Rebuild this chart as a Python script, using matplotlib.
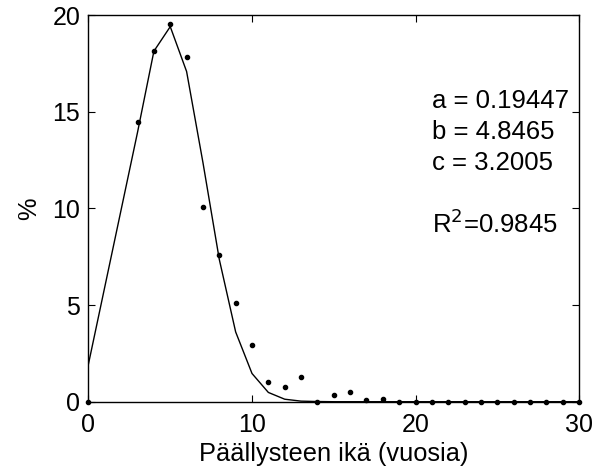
import numpy as np
import matplotlib.pyplot as plt

plt.rcParams['font.family'] = ['Liberation Sans', 'DejaVu Sans']

# Havaitut osuudet (%) päällysteen iän mukaan
ika = [0, 3, 4, 5, 6, 7, 8, 9, 10, 11, 12, 13, 14, 15, 16, 17, 18,
       19, 20, 21, 22, 23, 24, 25, 26, 27, 28, 29, 30]
osuus_havainto = [0.0, 14.45, 18.16, 19.52, 17.82, 10.09, 7.59, 5.09, 2.93,
                  1.03, 0.74, 1.28, 0.0, 0.35, 0.5, 0.07, 0.16, 0.0, 0.0,
                  0.0, 0.0, 0.0, 0.0, 0.0, 0.0, 0.0, 0.0, 0.0, 0.0]

# Sovitettu käyrä samoissa ikäpisteissä
osuus_sovite = [1.96, 13.94, 18.13, 19.40, 17.08, 12.37, 7.36, 3.61, 1.46,
                0.48, 0.13, 0.03, 0.01, 0.0, 0.0, 0.0, 0.0, 0.0, 0.0, 0.0,
                0.0, 0.0, 0.0, 0.0, 0.0, 0.0, 0.0, 0.0, 0.0]

parametrit = ["a = 0.19447", "b = 4.8465", "c = 3.2005"]
selitysaste = "R$^2$=0.9845"

fig = plt.figure(figsize=(6.12, 4.73), dpi=100)
ax = fig.add_axes([0.1446, 0.1507, 0.8015, 0.8175])

ax.plot(ika, osuus_sovite, 'k-', linewidth=1.0)
ax.plot(ika, osuus_havainto, 'k.', markersize=6, clip_on=False)

ax.set_xlim(0, 30)
ax.set_ylim(0, 20)
ax.set_xticks([0, 10, 20, 30])
ax.set_yticks([0, 5, 10, 15, 20])
ax.tick_params(direction='in', top=True, right=True, length=5, width=0.8,
               labelsize=18)
ax.tick_params(axis='x', pad=8)
ax.tick_params(axis='y', pad=6)
for s in ax.spines.values():
    s.set_linewidth(1.0)

ax.set_xlabel("Päällysteen ikä (vuosia)", fontsize=18.3, labelpad=4)
ax.set_ylabel("%", fontsize=18.3, labelpad=8)

for i, t in enumerate(parametrit):
    ax.text(21.0, 15.19 - 1.6 * i, t, fontsize=18.5, va='baseline')
ax.text(21.0, 8.73, selitysaste, fontsize=18.5, va='baseline')

fig.savefig("out.png", dpi=100)
